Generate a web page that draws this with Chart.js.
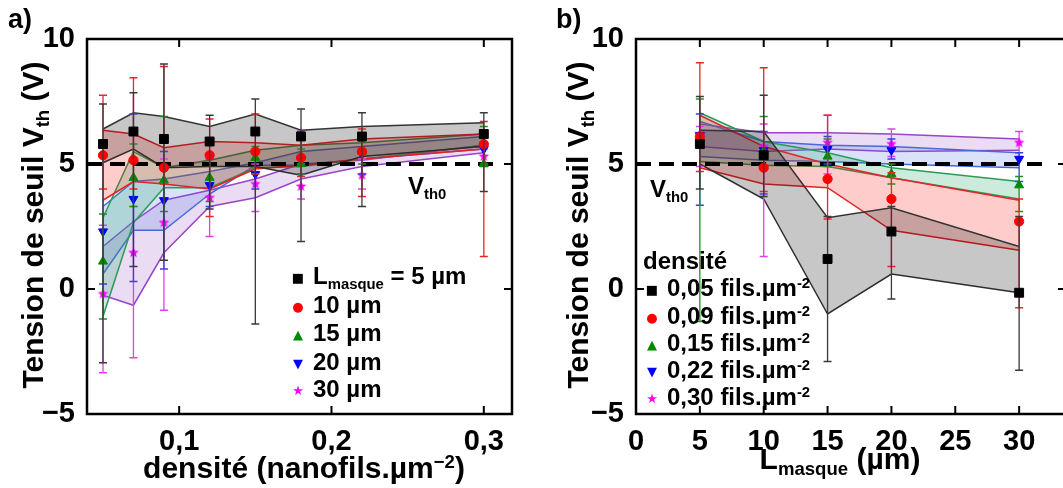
<!DOCTYPE html>
<html>
<head>
<meta charset="utf-8">
<script src="https://cdn.jsdelivr.net/npm/chart.js@4.4.1/dist/chart.umd.min.js"></script>
<style>
  body { margin:0; width:1063px; height:488px; overflow:hidden; background:#fff; position:relative;
         font-family:"Liberation Sans", Arial, sans-serif; font-weight:bold; color:#000; }
  canvas { position:absolute; top:0; }
  #chartA { left:0; }
  #chartB { left:530px; }
  .t { position:absolute; white-space:nowrap; line-height:1; }
  .c { transform:translate(-50%,-50%); }
  .rot { transform:translate(-50%,-50%) rotate(-90deg); }
  sub { font-size:0.62em; vertical-align:-0.32em; line-height:0; }
  sup { font-size:0.62em; vertical-align:0.55em; line-height:0; }
  .mk { font-family:"DejaVu Sans", sans-serif; display:inline-block; width:16px; text-align:center; font-size:13px; }
</style>
</head>
<body>
<canvas id="chartA" width="530" height="488"></canvas>
<canvas id="chartB" width="550" height="488"></canvas>

<div class="t" style="left:8px;top:6px;font-size:27px">a)</div>
<div class="t" style="left:556px;top:6px;font-size:27px">b)</div>

<div class="t rot" style="left:33px;top:225px;font-size:30px">Tension de seuil V<sub>th</sub> (V)</div>
<div class="t rot" style="left:578px;top:225px;font-size:30px">Tension de seuil V<sub>th</sub> (V)</div>
<div class="t c" style="left:304px;top:468px;font-size:30px">densité (nanofils.µm<sup>−2</sup>)</div>
<div class="t c" style="left:840px;top:459px;font-size:30px">L<sub>masque</sub> (µm)</div>

<div class="t" style="left:408px;top:174px;font-size:24px">V<sub>th0</sub></div>
<div class="t" style="left:650px;top:177px;font-size:24px">V<sub>th0</sub></div>

<div id="legA"></div>
<div id="legB"></div>

<script>
// ---- panel a : Vth vs density, one series per mask length ----
const densities = [0.05, 0.07, 0.09, 0.12, 0.15, 0.18, 0.22, 0.30];
const masqueLabels = ["L<sub>masque</sub> = 5 µm", "10 µm", "15 µm", "20 µm", "30 µm"];
const meanA = [
  [5.8, 6.3, 6.0, 5.9, 6.3, 6.1, 6.1, 6.2],
  [5.35, 5.15, 4.85, 5.35, 5.5, 5.25, 5.5, 5.8],
  [1.1, 4.45, 4.35, 4.45, 5.25, 5.0, 5.5, 5.0],
  [2.3, 3.6, 3.55, 4.15, 4.6, 5.15, 5.4, 5.6],
  [-0.2, 1.45, 2.65, 3.65, 4.2, 4.1, 4.55, 5.3]
];
const bandHiA = [
  [6.4, 7.05, 6.9, 6.5, 7.0, 6.35, 6.5, 6.65],
  [6.35, 6.2, 5.65, 5.9, 5.85, 5.75, 6.0, 6.2],
  [2.85, 5.5, 4.85, 5.15, 5.55, 5.75, 5.85, 6.2],
  [3.3, 4.3, 4.4, 4.7, 5.05, 5.5, 5.7, 6.1],
  [1.7, 2.7, 3.55, 3.95, 4.4, 5.0, 5.15, 5.75]
];
const bandLoA = [
  [5.05, 5.6, 4.85, 4.9, 4.9, 4.55, 5.3, 5.7],
  [3.55, 4.3, 4.2, 4.0, 4.8, 4.95, 5.2, 5.6],
  [-1.1, 2.65, 4.05, 4.05, 4.85, 4.9, 5.2, 5.75],
  [0.6, 2.35, 2.35, 3.8, 4.95, 4.95, 5.2, 5.6],
  [-0.25, -0.65, 1.45, 3.3, 3.65, 4.4, 4.9, 5.45]
];
const errLoA = [
  [-2.95, 0.9, 1.15, 3.2, -1.4, 1.9, 3.3, 3.9],
  [4.0, 4.0, 4.2, 2.9, 4.6, 4.5, 3.7, 1.3],
  [-1.2, 3.3, 3.1, 3.5, 4.6, 4.6, 5.0, 4.9],
  [0.2, 0.3, 0.8, 3.3, 4.0, 4.6, 4.6, 5.0],
  [-3.35, -2.75, -0.85, 2.1, 3.1, 3.6, 4.0, 5.0]
];
const errHiA = [
  [7.4, 7.85, 9.0, 6.95, 7.6, 7.2, 7.05, 7.05],
  [7.75, 8.45, 8.9, 6.8, 7.0, 6.3, 6.4, 6.7],
  [3.0, 5.8, 6.9, 5.4, 5.7, 5.6, 5.9, 6.5],
  [5.3, 7.0, 5.5, 5.2, 5.4, 6.3, 6.0, 6.2],
  [2.55, 3.3, 5.2, 4.4, 5.0, 5.0, 5.2, 5.6]
];
const xTicksA = [0.1, 0.2, 0.3];

// ---- panel b : Vth vs mask length, one series per density ----
const masques = [5, 10, 15, 20, 30];
const densLabels = ["0,05", "0,09", "0,15", "0,22", "0,30"];
const meanB = [
  [5.8, 5.35, 1.2, 2.3, -0.15],
  [6.1, 4.85, 4.4, 3.6, 2.7],
  [6.1, 5.5, 5.3, 4.6, 4.15],
  [6.15, 5.55, 5.6, 5.55, 5.2],
  [6.2, 5.7, 5.85, 5.8, 5.85]
];
const bandHiB = [
  [6.35, 6.3, 2.85, 3.25, 1.7],
  [6.95, 5.7, 5.0, 4.45, 3.55],
  [7.05, 5.9, 5.45, 4.85, 4.3],
  [6.7, 5.9, 5.75, 5.7, 5.45],
  [6.6, 6.25, 6.25, 6.2, 6.0]
];
const bandLoB = [
  [5.0, 3.6, -1.0, 0.6, -0.15],
  [4.85, 4.2, 4.05, 2.35, 1.55],
  [5.1, 4.95, 4.9, 4.45, 3.6],
  [5.3, 5.15, 5.1, 5.0, 4.85],
  [5.7, 5.5, 5.6, 5.5, 5.55]
];
const errLoB = [
  [4.0, 3.7, -2.9, -0.4, -3.25],
  [4.7, 3.9, 2.8, 0.9, -0.75],
  [-1.3, 4.8, 4.9, 4.2, 3.1],
  [3.35, 3.8, 5.0, 5.2, 4.3],
  [4.9, 1.3, 4.6, 5.3, 5.3]
];
const errHiB = [
  [7.7, 7.75, 2.9, 3.3, 2.9],
  [9.05, 8.85, 6.95, 4.65, 3.6],
  [7.6, 6.9, 6.0, 5.0, 4.5],
  [7.0, 6.3, 6.1, 6.0, 5.45],
  [6.5, 6.6, 6.95, 6.4, 6.3]
];
const xTicksB = [0, 5, 10, 15, 20, 25, 30];
const yTicks = [-5, 0, 5, 10];
const VTH0 = 5;

const FONT = "'Liberation Sans', Arial, sans-serif";

function starCanvas(color, r) {
  const c = document.createElement("canvas");
  c.width = c.height = 2 * r + 2;
  const g = c.getContext("2d");
  g.fillStyle = color;
  g.beginPath();
  for (let k = 0; k < 10; k++) {
    const a = -Math.PI / 2 + k * Math.PI / 5;
    const rr = k % 2 ? r * 0.45 : r;
    g.lineTo(r + 1 + rr * Math.cos(a), r + 1 + rr * Math.sin(a));
  }
  g.closePath();
  g.fill();
  return c;
}

const SERIES = [
  { color: "#000000", err: "#3a3a3a", line: "#333333", fill: "rgba(0,0,0,0.22)",      style: "rect",     r: 6.3, rot: 0,   glyph: "■" },
  { color: "#ff0000", err: "#e8262b", line: "#e3262b", fill: "rgba(255,0,0,0.2)",     style: "circle",   r: 4.6, rot: 0,   glyph: "●" },
  { color: "#008a00", err: "#2a8a2a", line: "#2c9a55", fill: "rgba(40,170,110,0.24)", style: "triangle", r: 5.2, rot: 0,   glyph: "▲" },
  { color: "#0000ff", err: "#3344dd", line: "#4a68d8", fill: "rgba(70,110,225,0.2)",  style: "triangle", r: 5.2, rot: 180, glyph: "▼" },
  { color: "#ff00ff", err: "#e040e8", line: "#9a44c8", fill: "rgba(145,80,195,0.2)",  style: starCanvas("#ff00ff", 5.5), r: 5.5, rot: 0, glyph: "★" }
];

const errorBars = {
  id: "errorBars",
  beforeDatasetDraw(chart, args) {
    const ds = chart.data.datasets[args.index];
    if (!ds.errLo) return;
    const { ctx, chartArea: a, scales: { x, y } } = chart;
    ctx.save();
    ctx.beginPath();
    ctx.rect(a.left, a.top, a.right - a.left, a.bottom - a.top);
    ctx.clip();
    ctx.strokeStyle = ds.errColor;
    ctx.lineWidth = 1.3;
    ds.data.forEach((p, j) => {
      const px = x.getPixelForValue(p.x);
      const y0 = y.getPixelForValue(ds.errLo[j]);
      const y1 = y.getPixelForValue(ds.errHi[j]);
      ctx.beginPath();
      ctx.moveTo(px, y0); ctx.lineTo(px, y1);
      ctx.moveTo(px - 4, y0); ctx.lineTo(px + 4, y0);
      ctx.moveTo(px - 4, y1); ctx.lineTo(px + 4, y1);
      ctx.stroke();
    });
    ctx.restore();
  }
};

// box around the plot + inward tick marks on all four sides
const frame = {
  id: "frame",
  afterDraw(chart) {
    const { ctx, chartArea: a, scales: { x, y } } = chart;
    ctx.save();
    ctx.strokeStyle = "#000";
    ctx.lineWidth = 2.5;
    ctx.strokeRect(a.left, a.top, a.right - a.left, a.bottom - a.top);
    ctx.lineWidth = 2;
    ctx.beginPath();
    x.ticks.forEach(t => {
      const px = x.getPixelForValue(t.value);
      ctx.moveTo(px, a.bottom); ctx.lineTo(px, a.bottom - 8);
      ctx.moveTo(px, a.top); ctx.lineTo(px, a.top + 8);
    });
    y.ticks.forEach(t => {
      const py = y.getPixelForValue(t.value);
      ctx.moveTo(a.left, py); ctx.lineTo(a.left + 8, py);
      ctx.moveTo(a.right, py); ctx.lineTo(a.right - 8, py);
    });
    ctx.stroke();
    ctx.restore();
  }
};

function buildDatasets(xs, means, his, los, eLo, eHi, dashEnds) {
  const ds = [];
  SERIES.forEach((s, i) => {
    ds.push({
      data: xs.map((x, j) => ({ x, y: his[i][j] })),
      borderColor: s.line, backgroundColor: s.fill, borderWidth: 1.5,
      pointRadius: 0, fill: "+1", tension: 0, order: 20
    });
    ds.push({
      data: xs.map((x, j) => ({ x, y: los[i][j] })),
      borderColor: s.line, borderWidth: 1.5, pointRadius: 0, fill: false, tension: 0, order: 20
    });
  });
  ds.push({
    data: dashEnds.map(x => ({ x, y: VTH0 })),
    borderColor: "#000", borderWidth: 4, borderDash: [15, 8],
    pointRadius: 0, fill: false, order: 10
  });
  SERIES.forEach((s, i) => {
    ds.push({
      data: xs.map((x, j) => ({ x, y: means[i][j] })),
      showLine: false, pointStyle: s.style, pointRadius: s.r, pointRotation: s.rot,
      backgroundColor: s.color, borderColor: s.color, borderWidth: 1,
      errLo: eLo[i], errHi: eHi[i], errColor: s.err, order: 0
    });
  });
  return ds;
}

function makeChart(id, datasets, xMin, xMax, xTicks, xFmt, padRight, yWidth) {
  return new Chart(document.getElementById(id), {
    type: "line",
    data: { datasets },
    options: {
      responsive: false,
      animation: false,
      devicePixelRatio: 1,
      layout: { padding: { left: 0, top: 39, right: padRight, bottom: 0 } },
      plugins: { legend: { display: false }, tooltip: { enabled: false } },
      scales: {
        x: {
          type: "linear", min: xMin, max: xMax,
          afterBuildTicks: s => { s.ticks = xTicks.map(v => ({ value: v })); },
          afterFit: s => { s.height = 74; },
          grid: { display: false }, border: { display: false },
          ticks: { color: "#000", padding: 3, maxRotation: 0, autoSkip: false,
                   font: { family: FONT, size: 29, weight: "bold" }, callback: xFmt }
        },
        y: {
          min: -5, max: 10,
          afterBuildTicks: s => { s.ticks = yTicks.map(v => ({ value: v })); },
          afterFit: s => { s.width = yWidth; },
          grid: { display: false }, border: { display: false },
          ticks: { color: "#000", padding: 4,
                   font: { family: FONT, size: 29, weight: "bold" },
                   callback: v => String(v).replace("-", "−") }
        }
      }
    },
    plugins: [errorBars, frame]
  });
}

makeChart("chartA",
  buildDatasets(densities, meanA, bandHiA, bandLoA, errLoA, errHiA, [0.0395, 0.309]),
  0.0395, 0.3185, xTicksA, v => v.toFixed(1).replace(".", ","), 18, 87);

makeChart("chartB",
  buildDatasets(masques, meanB, bandHiB, bandLoB, errLoB, errHiB, [0, 32.2]),
  0, 33.67, xTicksB, v => String(v), 14, 106);

// legends (HTML so that sub/superscripts stay real text)
function legend(el, rows, x, ys, glyphX) {
  el.innerHTML = rows.map((txt, i) =>
    `<div class="t" style="left:${glyphX - 8}px;top:${ys[i] - 12}px;font-size:24px">` +
    `<span class="mk" style="color:${SERIES[i].color};vertical-align:2px">${SERIES[i].glyph}</span>` +
    `<span style="position:absolute;left:${x - glyphX + 8}px;top:0">${txt}</span></div>`
  ).join("");
}
legend(document.getElementById("legA"), masqueLabels, 313, [276, 305, 333, 362, 389], 298);
legend(document.getElementById("legB"), densLabels.map(d => `${d} fils.µm<sup>-2</sup>`), 667, [288, 316, 343, 370, 397], 652);
document.getElementById("legB").insertAdjacentHTML("beforeend",
  '<div class="t" style="left:643px;top:249px;font-size:24px">densité</div>');
</script>
</body>
</html>
